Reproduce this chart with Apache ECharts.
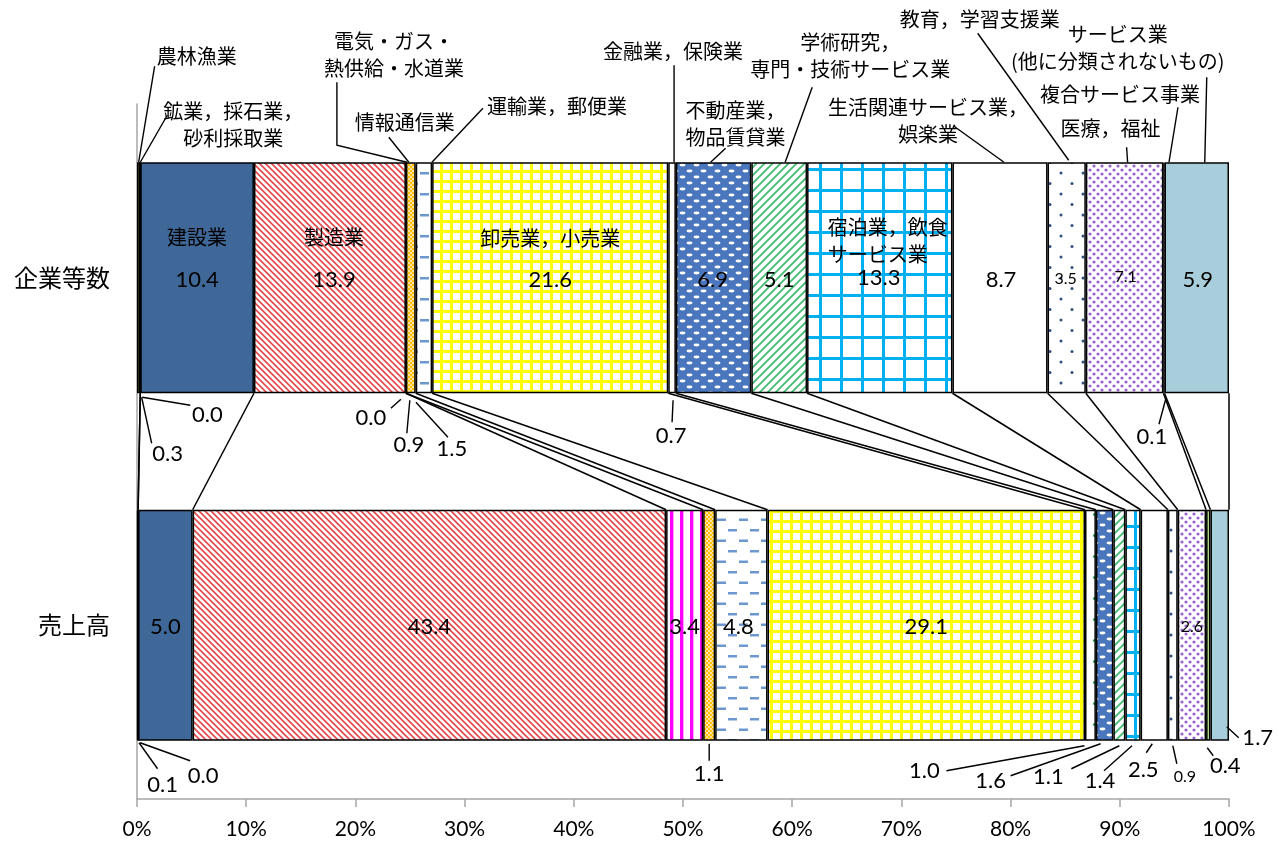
<!DOCTYPE html>
<html><head><meta charset="utf-8">
<script src="https://cdn.jsdelivr.net/npm/echarts@6/dist/echarts.min.js"></script>
<style>html,body{margin:0;padding:0;background:#fff}#c{width:1279px;height:845px}</style>
</head><body><div id="c"></div><script>
// ---------- data ----------
const barNames = ['企業等数', '売上高'];
const categories = ['農林漁業','鉱業，採石業，砂利採取業','建設業','製造業','電気・ガス・熱供給・水道業','情報通信業','運輸業，郵便業','卸売業，小売業','金融業，保険業','不動産業，物品賃貸業','学術研究，専門・技術サービス業','宿泊業，飲食サービス業','生活関連サービス業，娯楽業','教育，学習支援業','医療，福祉','複合サービス事業','サービス業(他に分類されないもの)'];
const categoryLabels = ['農林漁業','鉱業，採石業，\n砂利採取業','建設業','製造業','電気・ガス・\n熱供給・水道業','情報通信業','運輸業，郵便業','卸売業，小売業','金融業，保険業','不動産業，\n物品賃貸業','学術研究，\n専門・技術サービス業','宿泊業，飲食\nサービス業','生活関連サービス業，\n娯楽業','教育，学習支援業','医療，福祉','複合サービス事業','サービス業\n(他に分類されないもの)'];
const firmShare  = [0.3, 0.0, 10.4, 13.9, 0.0, 0.9, 1.5, 21.6, 0.7, 6.9, 5.1, 13.3, 8.7, 3.5, 7.1, 0.1, 5.9];
const salesShare = [0.1, 0.0, 5.0, 43.4, 3.4, 1.1, 4.8, 29.1, 1.0, 1.6, 1.1, 1.4, 2.5, 0.9, 2.6, 0.4, 1.7];
const xTickValues = [0, 10, 20, 30, 40, 50, 60, 70, 80, 90, 100];
const xTickLabels = ['0%','10%','20%','30%','40%','50%','60%','70%','80%','90%','100%'];

// ---------- layout (positions / styles only) ----------
const BAR_W = 231;
const NUM_FONT = 'Lato, "Noto Sans CJK JP", sans-serif';
const JP_FONT = '"Noto Sans CJK JP", sans-serif';
// offsets relative to an anchor on the segment (top edge / centre / bottom edge)
const nameLayout = [
  {e:'top', l:[[0,0],[16,-96]], t:[58,-106]},
  {e:'top', l:[[0,0],[27,-47]], t:[93,-37]},
  {e:'mid', t:[0,-40]},
  {e:'mid', t:[4,-40]},
  {e:'top', l:[[1,0],[-69,-17],[-69,-80]], t:[-12,-107]},
  {e:'top', l:[[-2,0],[-22,-25]], t:[-6,-40]},
  {e:'top', l:[[8,0],[59,-54]], t:[133,-56]},
  {e:'mid', t:[0,-39]},
  {e:'top', l:[[2,0],[2,-97]], t:[1,-111]},
  {e:'top', l:[[-3,0],[12,-14]], t:[22,-38]},
  {e:'top', l:[[6,0],[33,-75]], t:[71,-106]},
  {e:'mid', t:[-52,-37], align:'left'},
  {e:'top', l:[[4,0],[-46,-36]], t:[-72,-41]},
  {e:'top', l:[[2,-2],[-89,-129]], t:[-87,-143]},
  {e:'top', l:[[3,0],[2,-15]], t:[-14,-34]},
  {e:'top', l:[[5,0],[14,-55]], t:[-44,-68]},
  {e:'top', l:[[8,0],[10,-85]], t:[-79,-114]}
];
const firmValueLayout = [
  {e:'bottom', l:[[3,4],[13,50]], t:[29,61]},
  {e:'bottom', l:[[2,4],[50,12]], t:[67,22]},
  {e:'mid', t:[0,2]},
  {e:'mid', t:[4,2]},
  {e:'bottom', l:[[-5,6],[-15,15]], t:[-35,25]},
  {e:'bottom', l:[[-1,7],[-4,40]], t:[-2,52]},
  {e:'bottom', l:[[-8,9],[24,44]], t:[28,56]},
  {e:'mid', t:[0,2]},
  {e:'bottom', l:[[1,7],[0,29]], t:[-1,43]},
  {e:'mid', t:[-1,2]},
  {e:'mid', t:[0,2]},
  {e:'mid', t:[-1,0]},
  {e:'mid', t:[1,2]},
  {e:'mid', t:[-1,1], fs:16},
  {e:'mid', t:[1,-1], fs:16},
  {e:'bottom', l:[[2,5],[-5,31]], t:[-12,44]},
  {e:'mid', t:[1,2]}
];
const salesValueLayout = [
  {e:'bottom', l:[[1.5,2],[20,28]], t:[25,44]},
  {e:'bottom', l:[[2,2],[52,20]], t:[65,35]},
  {e:'mid', t:[0,2]},
  {e:'mid', t:[0,2]},
  {e:'mid', t:[0,2]},
  {e:'bottom', l:[[0,3],[0,20]], t:[0,33]},
  {e:'mid', t:[-3,2]},
  {e:'mid', t:[0,2]},
  {e:'bottom', l:[[-6,5],[-144,30]], t:[-166,30]},
  {e:'bottom', l:[[-4,3],[-94,35]], t:[-114,40]},
  {e:'bottom', l:[[0,5],[-48,28]], t:[-71,36]},
  {e:'bottom', l:[[-1,5],[-29,30]], t:[-33,40]},
  {e:'bottom', l:[[-2,3],[-8,12]], t:[-11,29]},
  {e:'bottom', l:[[0,5],[4,23]], t:[12,36], fs:16},
  {e:'mid', t:[0,2], fs:16},
  {e:'bottom', l:[[-1,7],[5,15]], t:[17,25]},
  {e:'bottom', l:[[7,-14],[19,-3]], t:[38,-3]}
];

// ---------- patterns ----------
function pat(w, h, draw) {
  const c = document.createElement('canvas'); c.width = w; c.height = h;
  const g = c.getContext('2d'); draw(g, w, h);
  return {image: c, repeat: 'repeat'};
}
function dot(g, x, y, r, col) { g.fillStyle = col; g.beginPath(); g.arc(x, y, r, 0, Math.PI*2); g.fill(); }
const fills = [
  '#8E9B4E',
  '#7F7F7F',
  '#3F6797',
  pat(6, 6, g => { g.fillStyle='#fff'; g.fillRect(0,0,6,6); g.strokeStyle='#E5484B'; g.lineWidth=1.6;
    g.beginPath(); g.moveTo(-1,-1); g.lineTo(7,7); g.moveTo(-1,5); g.lineTo(1,7); g.moveTo(5,-1); g.lineTo(7,1); g.stroke(); }),
  pat(10, 4, g => { g.fillStyle='#fff'; g.fillRect(0,0,10,4); g.fillStyle='#FF00FF'; g.fillRect(0,0,3,4); g.fillStyle='#FFA0FF'; g.fillRect(3,0,1,4); }),
  pat(4, 4, g => { g.fillStyle='#FFE3A0'; g.fillRect(0,0,4,4); g.fillStyle='#FFC000'; g.fillRect(0,0,2,2); g.fillRect(2,2,2,2); }),
  pat(22, 21, g => { g.fillStyle='#fff'; g.fillRect(0,0,22,21); g.fillStyle='#6C97CF'; g.fillRect(2,4,9,2.5); g.fillRect(13,14.5,9,2.5); }),
  pat(10, 10, g => { g.fillStyle='#FFFF00'; g.fillRect(0,0,10,10); g.fillStyle='#fff'; g.fillRect(3,3,7,7); }),
  pat(11, 21, g => { g.fillStyle='#fff'; g.fillRect(0,0,11,21); dot(g, 5.5, 10.5, 1.6, '#2EAA4F'); }),
  pat(14, 12, g => { g.fillStyle='#4A76BE'; g.fillRect(0,0,14,12); g.fillStyle='#fff';
    g.beginPath(); g.ellipse(3.5,3,3,1.4,0,0,Math.PI*2); g.fill(); g.beginPath(); g.ellipse(10.5,9,3,1.4,0,0,Math.PI*2); g.fill(); }),
  pat(8, 8, g => { g.fillStyle='#fff'; g.fillRect(0,0,8,8); g.strokeStyle='#45BD72'; g.lineWidth=1.9;
    g.beginPath(); g.moveTo(-1,9); g.lineTo(9,-1); g.moveTo(-1,1); g.lineTo(1,-1); g.moveTo(7,9); g.lineTo(9,7); g.stroke(); }),
  pat(21, 21, g => { g.fillStyle='#fff'; g.fillRect(0,0,21,21); g.fillStyle='#00B0F0'; g.fillRect(0,0,3,21); g.fillRect(0,0,21,3); }),
  '#FFFFFF',
  pat(22, 21, g => { g.fillStyle='#fff'; g.fillRect(0,0,22,21); dot(g, 5, 5, 1.5, '#2F4F80'); dot(g, 16, 15.5, 1.5, '#2F4F80'); }),
  pat(8, 8, g => { g.fillStyle='#fff'; g.fillRect(0,0,8,8); dot(g, 2, 2, 1.6, '#9A63CF'); dot(g, 6, 6, 1.6, '#9A63CF'); }),
  '#B4E08C',
  '#A9CEDB'
];

// ---------- derived (100% stacking as in the original) ----------
const sumF = firmShare.reduce((a, b) => a + b, 0);
const sumS = salesShare.reduce((a, b) => a + b, 0);
const firmPct = firmShare.map(v => v / sumF * 100);
const salesPct = salesShare.map(v => v / sumS * 100);
function cum(arr) { let s = 0; return arr.map(v => { const st = s; s += v; return [st, s]; }); }
const firmCum = cum(firmPct), salesCum = cum(salesPct);

const annos = [];
categories.forEach((c, k) => {
  annos.push(Object.assign({bar: 0, k: k, text: categoryLabels[k], font: JP_FONT, fs: 20}, nameLayout[k]));
  annos.push(Object.assign({bar: 0, k: k, text: firmShare[k].toFixed(1), font: NUM_FONT, fs: 22}, firmValueLayout[k]));
  annos.push(Object.assign({bar: 1, k: k, text: salesShare[k].toFixed(1), font: NUM_FONT, fs: 22}, salesValueLayout[k]));
});

const barSeries = categories.map((c, k) => ({
  name: c, type: 'bar', stack: 'total', barWidth: BAR_W,
  data: [firmPct[k], salesPct[k]],
  itemStyle: {color: fills[k], borderColor: '#000', borderWidth: 1.5},
  emphasis: {disabled: true}, silent: true, z: 2
}));

const connectorSeries = {
  type: 'custom', z: 3, silent: true, clip: false,
  encode: {x: [0, 1], y: 2},
  data: categories.map((c, k) => [firmCum[k][1], salesCum[k][1], 0]),
  renderItem: function (params, api) {
    const p1 = api.coord([api.value(0), 0]);
    const p2 = api.coord([api.value(1), 1]);
    return {type: 'line', shape: {x1: p1[0], y1: p1[1] + BAR_W / 2, x2: p2[0], y2: p2[1] - BAR_W / 2},
      style: {stroke: '#000', lineWidth: 1.5}};
  }
};

const annoSeries = {
  type: 'custom', z: 5, silent: true, clip: false,
  encode: {x: 0, y: 1},
  data: annos.map(a => { const cc = a.bar === 0 ? firmCum[a.k] : salesCum[a.k]; return [(cc[0] + cc[1]) / 2, a.bar]; }),
  renderItem: function (params, api) {
    const a = annos[params.dataIndex];
    const c = api.coord([api.value(0), api.value(1)]);
    let ax = c[0], ay = c[1];
    if (a.e === 'top') ay -= BAR_W / 2; else if (a.e === 'bottom') ay += BAR_W / 2;
    const children = [];
    if (a.l) children.push({type: 'polyline', shape: {points: a.l.map(p => [ax + p[0], ay + p[1]])},
      style: {stroke: '#000', lineWidth: 1.4, fill: null}});
    children.push({type: 'text', style: {text: a.text, x: ax + a.t[0], y: ay + a.t[1], fill: '#000',
      font: a.fs + 'px ' + a.font, align: a.align || 'center', verticalAlign: 'middle', lineHeight: 27}});
    return {type: 'group', children: children};
  }
};

const chart = echarts.init(document.getElementById('c'));
chart.setOption({
  animation: false,
  backgroundColor: '#fff',
  grid: {left: 137, right: 50, top: 104, bottom: 46, containLabel: false},
  xAxis: {
    type: 'value', min: 0, max: 100, interval: 10,
    axisLine: {show: true, lineStyle: {color: '#A6A6A6', width: 1.5}},
    axisTick: {show: true, length: 8, lineStyle: {color: '#A6A6A6', width: 1.5}},
    splitLine: {show: false},
    axisLabel: {color: '#000', fontSize: 21, fontFamily: 'Lato', margin: 20,
      formatter: v => xTickLabels[xTickValues.indexOf(v)]}
  },
  yAxis: {
    type: 'category', data: barNames, inverse: true,
    axisLine: {show: true, lineStyle: {color: '#A6A6A6', width: 1.5}},
    axisTick: {show: false},
    axisLabel: {color: '#000', fontSize: 24, fontFamily: 'Noto Sans CJK JP', margin: 27}
  },
  series: barSeries.concat([connectorSeries, annoSeries])
});
</script></body></html>
